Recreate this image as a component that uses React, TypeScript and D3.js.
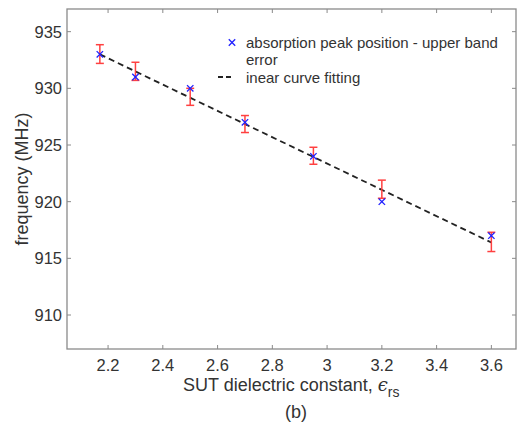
import React from "react";
import * as d3 from "d3";

const epsValues = [2.17, 2.3, 2.5, 2.7, 2.95, 3.2, 3.6];
const peakFreq = [933.0, 931.0, 930.0, 927.0, 924.0, 920.0, 917.0];
const errLow = [932.2, 930.7, 928.5, 926.1, 923.3, 920.3, 915.6];
const errHigh = [933.85, 932.3, 930.0, 927.6, 924.8, 921.9, 917.3];
const fitX = [2.17, 3.6];
const fitY = [933.0, 916.4];
const xTicks = [2.2, 2.4, 2.6, 2.8, 3, 3.2, 3.4, 3.6];
const yTicks = [910, 915, 920, 925, 930, 935];
const legendLabels = ["absorption peak position - upper band", "error", "inear curve fitting"];

const W = 517, H = 425;
const M = { left: 67, right: 516, top: 9, bottom: 349 };

export default function App() {
  const x = d3.scaleLinear().domain([2.05, 3.69]).range([M.left, M.right]);
  const y = d3.scaleLinear().domain([907, 937]).range([M.bottom, M.top]);
  const line = d3.line<number>().x((_, i) => x(fitX[i])).y((d) => y(d));
  const axisColor = "#8a8a8a";
  const textColor = "#333";
  const font = "Liberation Sans, Arial, sans-serif";
  const tl = 4;
  const cap = 4;
  const mk = 3.2;
  return (
    <div style={{ position: "absolute", left: 0, top: 0 }}>
      <svg width={W} height={H} style={{ display: "block", background: "#fff" }} fontFamily={font}>
        {/* axes box */}
        <rect x={M.left} y={M.top} width={M.right - M.left} height={M.bottom - M.top} fill="none" stroke={axisColor} strokeWidth={1.3} />
        {xTicks.map((t) => (
          <g key={"x" + t}>
            <line x1={x(t)} x2={x(t)} y1={M.bottom} y2={M.bottom - tl} stroke={axisColor} strokeWidth={1} />
            <line x1={x(t)} x2={x(t)} y1={M.top} y2={M.top + tl} stroke={axisColor} strokeWidth={1} />
            <text x={x(t)} y={M.bottom + 22} textAnchor="middle" fontSize={16.5} fill={textColor}>{t}</text>
          </g>
        ))}
        {yTicks.map((t) => (
          <g key={"y" + t}>
            <line x1={M.left} x2={M.left + tl} y1={y(t)} y2={y(t)} stroke={axisColor} strokeWidth={1} />
            <line x1={M.right} x2={M.right - tl} y1={y(t)} y2={y(t)} stroke={axisColor} strokeWidth={1} />
            <text x={M.left - 5} y={y(t) + 6} textAnchor="end" fontSize={16.5} fill={textColor}>{t}</text>
          </g>
        ))}
        {/* fit line */}
        <path d={line(fitY) || ""} fill="none" stroke="#222" strokeWidth={1.8} strokeDasharray="6,4" />
        {/* error bars */}
        {epsValues.map((e, i) => (
          <g key={"e" + i} stroke="#ff4040" strokeWidth={1.5}>
            <line x1={x(e)} x2={x(e)} y1={y(errLow[i])} y2={y(errHigh[i])} />
            <line x1={x(e) - cap} x2={x(e) + cap} y1={y(errLow[i])} y2={y(errLow[i])} />
            <line x1={x(e) - cap} x2={x(e) + cap} y1={y(errHigh[i])} y2={y(errHigh[i])} />
          </g>
        ))}
        {/* markers */}
        {epsValues.map((e, i) => (
          <g key={"m" + i} stroke="#2020ff" strokeWidth={1.3}>
            <line x1={x(e) - mk} x2={x(e) + mk} y1={y(peakFreq[i]) - mk} y2={y(peakFreq[i]) + mk} />
            <line x1={x(e) - mk} x2={x(e) + mk} y1={y(peakFreq[i]) + mk} y2={y(peakFreq[i]) - mk} />
          </g>
        ))}
        {/* legend */}
        <g>
          <g stroke="#2020ff" strokeWidth={1.3}>
            <line x1={232 - mk} x2={232 + mk} y1={42.5 - mk} y2={42.5 + mk} />
            <line x1={232 - mk} x2={232 + mk} y1={42.5 + mk} y2={42.5 - mk} />
          </g>
          <line x1={218} x2={231} y1={77} y2={77} stroke="#222" strokeWidth={1.8} strokeDasharray="5,3" />
          {legendLabels.map((l, i) => (
            <text key={l} x={246} y={48 + i * 17.3} fontSize={15} fill={textColor}>{l}</text>
          ))}
        </g>
        {/* axis labels */}
        <text transform={`translate(28,${(M.top + M.bottom) / 2}) rotate(-90)`} textAnchor="middle" fontSize={18} fill={textColor}>frequency (MHz)</text>
        <text x={183} y={391} fontSize={18} fill={textColor}>
          SUT dielectric constant, <tspan fontFamily="DejaVu Serif" fontStyle="italic">ϵ</tspan>
          <tspan dy={6} fontSize={14}>rs</tspan>
        </text>
        <text x={296} y={418} textAnchor="middle" fontSize={18} fill={textColor}>(b)</text>
      </svg>
    </div>
  );
}
